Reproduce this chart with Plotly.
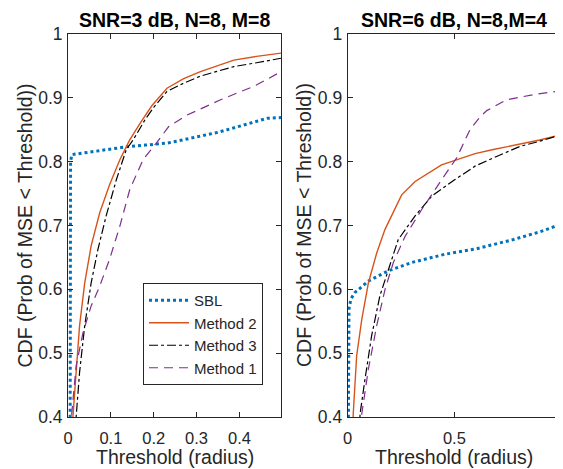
import plotly.graph_objects as go

# ---- Left panel data (SNR=3 dB, N=8, M=8) ----
l_sbl_x = [0.005, 0.005, 0.006, 0.009, 0.05, 0.10, 0.144, 0.18, 0.231, 0.253, 0.309, 0.35, 0.387, 0.43, 0.465, 0.497]
l_sbl_y = [0.38, 0.60, 0.80, 0.811, 0.815, 0.820, 0.824, 0.826, 0.829, 0.832, 0.840, 0.846, 0.853, 0.861, 0.868, 0.869]

l_m2_x = [0.0105, 0.0117, 0.019, 0.027, 0.039, 0.054, 0.074, 0.097, 0.121, 0.144, 0.17, 0.196, 0.231, 0.27, 0.309, 0.35, 0.387, 0.44, 0.497]
l_m2_y = [0.38, 0.402, 0.470, 0.543, 0.610, 0.668, 0.720, 0.764, 0.803, 0.834, 0.862, 0.888, 0.915, 0.930, 0.941, 0.951, 0.959, 0.965, 0.970]

l_m3_x = [0.018, 0.019, 0.027, 0.039, 0.054, 0.070, 0.089, 0.113, 0.136, 0.152, 0.18, 0.20, 0.231, 0.27, 0.309, 0.35, 0.387, 0.44, 0.497]
l_m3_y = [0.38, 0.40, 0.470, 0.543, 0.610, 0.663, 0.715, 0.772, 0.819, 0.834, 0.866, 0.885, 0.910, 0.923, 0.934, 0.942, 0.949, 0.955, 0.962]

l_m1_x = [0.007, 0.008, 0.019, 0.035, 0.054, 0.074, 0.097, 0.121, 0.144, 0.175, 0.206, 0.235, 0.278, 0.30, 0.356, 0.40, 0.434, 0.497]
l_m1_y = [0.38, 0.40, 0.480, 0.532, 0.574, 0.605, 0.647, 0.699, 0.756, 0.803, 0.829, 0.855, 0.873, 0.880, 0.897, 0.909, 0.918, 0.941]

# ---- Right panel data (SNR=6 dB, N=8, M=4) ----
r_sbl_x = [0.003, 0.004, 0.006, 0.015, 0.034, 0.097, 0.19, 0.30, 0.456, 0.597, 0.70, 0.777, 0.90, 1.0]
r_sbl_y = [0.38, 0.50, 0.569, 0.585, 0.595, 0.613, 0.629, 0.642, 0.655, 0.663, 0.672, 0.678, 0.690, 0.702]

r_m2_x = [0.024, 0.026, 0.042, 0.066, 0.097, 0.136, 0.175, 0.253, 0.316, 0.44, 0.503, 0.597, 0.683, 0.792, 0.90, 1.0]
r_m2_y = [0.38, 0.405, 0.496, 0.553, 0.610, 0.657, 0.694, 0.748, 0.769, 0.795, 0.802, 0.8125, 0.819, 0.826, 0.834, 0.842]

r_m3_x = [0.055, 0.058, 0.081, 0.112, 0.151, 0.19, 0.237, 0.316, 0.394, 0.503, 0.597, 0.683, 0.808, 0.90, 1.0]
r_m3_y = [0.38, 0.405, 0.459, 0.527, 0.590, 0.631, 0.678, 0.715, 0.746, 0.772, 0.793, 0.806, 0.824, 0.832, 0.842]

r_m1_x = [0.062, 0.066, 0.097, 0.136, 0.175, 0.214, 0.269, 0.347, 0.441, 0.511, 0.573, 0.620, 0.652, 0.745, 0.870, 1.0]
r_m1_y = [0.38, 0.405, 0.475, 0.543, 0.600, 0.642, 0.683, 0.725, 0.772, 0.806, 0.850, 0.870, 0.880, 0.897, 0.905, 0.911]

names = ["SBL", "Method 2", "Method 3", "Method 1"]
colors = ["#0072BD", "#D95319", "#000000", "#7E2F8E"]
dashes = ["dot", "solid", "dashdot", "9px,6px"]
widths = [3, 1.4, 1.2, 1.2]

y_ticks = [0.4, 0.5, 0.6, 0.7, 0.8, 0.9, 1.0]
y_ticklabels = ["0.4", "0.5", "0.6", "0.7", "0.8", "0.9", "1"]
l_x_ticks = [0, 0.1, 0.2, 0.3, 0.4]
l_x_ticklabels = ["0", "0.1", "0.2", "0.3", "0.4"]
r_x_ticks = [0, 0.5, 1]
r_x_ticklabels = ["0", "0.5", "1"]

fig = go.Figure()

left = [(l_sbl_x, l_sbl_y), (l_m2_x, l_m2_y), (l_m3_x, l_m3_y), (l_m1_x, l_m1_y)]
right = [(r_sbl_x, r_sbl_y), (r_m2_x, r_m2_y), (r_m3_x, r_m3_y), (r_m1_x, r_m1_y)]

for i, (xs, ys) in enumerate(left):
    fig.add_trace(go.Scatter(x=xs, y=ys, mode="lines", name=names[i],
                             line=dict(color=colors[i], dash=dashes[i], width=widths[i]),
                             xaxis="x", yaxis="y", showlegend=True))
for i, (xs, ys) in enumerate(right):
    fig.add_trace(go.Scatter(x=xs, y=ys, mode="lines", name=names[i],
                             line=dict(color=colors[i], dash=dashes[i], width=widths[i]),
                             xaxis="x2", yaxis="y2", showlegend=False))

axcol = "#262626"
FONT = "Liberation Sans, Arial, sans-serif"
common = dict(showline=True, linecolor=axcol, linewidth=1, mirror="ticks", automargin=False,
              ticks="inside", ticklen=5, tickcolor=axcol, showgrid=False, zeroline=False)
xcommon = dict(common, tickfont=dict(family=FONT, size=16.5, color=axcol), ticklabelstandoff=6)
ycommon = dict(common, tickfont=dict(family=FONT, size=17.5, color=axcol), ticklabelstandoff=1)
ytitle = "CDF (Prob of MSE < Threshold))"
xtitle = "Threshold (radius)"
tfont = dict(family=FONT, size=19.5, color=axcol)
hfont = dict(family=FONT, size=19.5, color="#000000")

W, H = 555, 461  # page body adds an 8px offset
LX = [60 / W, 273 / W]
RX = [339.7 / W, 553 / W]
YD = [(H - 409) / H, (H - 26) / H]

fig.update_layout(
    width=W, height=H,
    margin=dict(l=0, r=0, t=0, b=0),
    paper_bgcolor="white", plot_bgcolor="white",
    xaxis=dict(domain=LX, range=[0, 0.497], tickvals=l_x_ticks, ticktext=l_x_ticklabels, anchor="y", **xcommon),
    yaxis=dict(domain=YD, range=[0.4, 1.0], tickvals=y_ticks, ticktext=y_ticklabels, anchor="x", **ycommon),
    xaxis2=dict(domain=RX, range=[0, 1.0], tickvals=r_x_ticks, ticktext=r_x_ticklabels, anchor="y2", **xcommon),
    yaxis2=dict(domain=YD, range=[0.4, 1.0], tickvals=y_ticks, ticktext=y_ticklabels, anchor="x2", **ycommon),
    legend=dict(x=135 / W, y=(H - 275) / H, xanchor="left", yanchor="top",
                bgcolor="white", bordercolor=axcol, borderwidth=1,
                font=dict(family=FONT, size=15, color=axcol),
                tracegroupgap=0, itemwidth=40),
    annotations=[
        dict(text="<b>SNR=3 dB, N=8, M=8</b>", x=sum(LX) / 2, y=(H - 12) / H,
             xref="paper", yref="paper", showarrow=False, xanchor="center", yanchor="middle", font=hfont),
        dict(text="<b>SNR=6 dB, N=8,M=4</b>", x=sum(RX) / 2, y=(H - 12) / H,
             xref="paper", yref="paper", showarrow=False, xanchor="center", yanchor="middle", font=hfont),
        dict(text=ytitle, textangle=-90, x=16 / W, y=sum(YD) / 2,
             xref="paper", yref="paper", showarrow=False, xanchor="center", yanchor="middle", font=tfont),
        dict(text=ytitle, textangle=-90, x=295.5 / W, y=sum(YD) / 2,
             xref="paper", yref="paper", showarrow=False, xanchor="center", yanchor="middle", font=tfont),
        dict(text=xtitle, x=sum(LX) / 2, y=(H - 449) / H,
             xref="paper", yref="paper", showarrow=False, xanchor="center", yanchor="middle", font=tfont),
        dict(text=xtitle, x=sum(RX) / 2, y=(H - 449) / H,
             xref="paper", yref="paper", showarrow=False, xanchor="center", yanchor="middle", font=tfont),
    ],
)

fig.write_html("out.html")
